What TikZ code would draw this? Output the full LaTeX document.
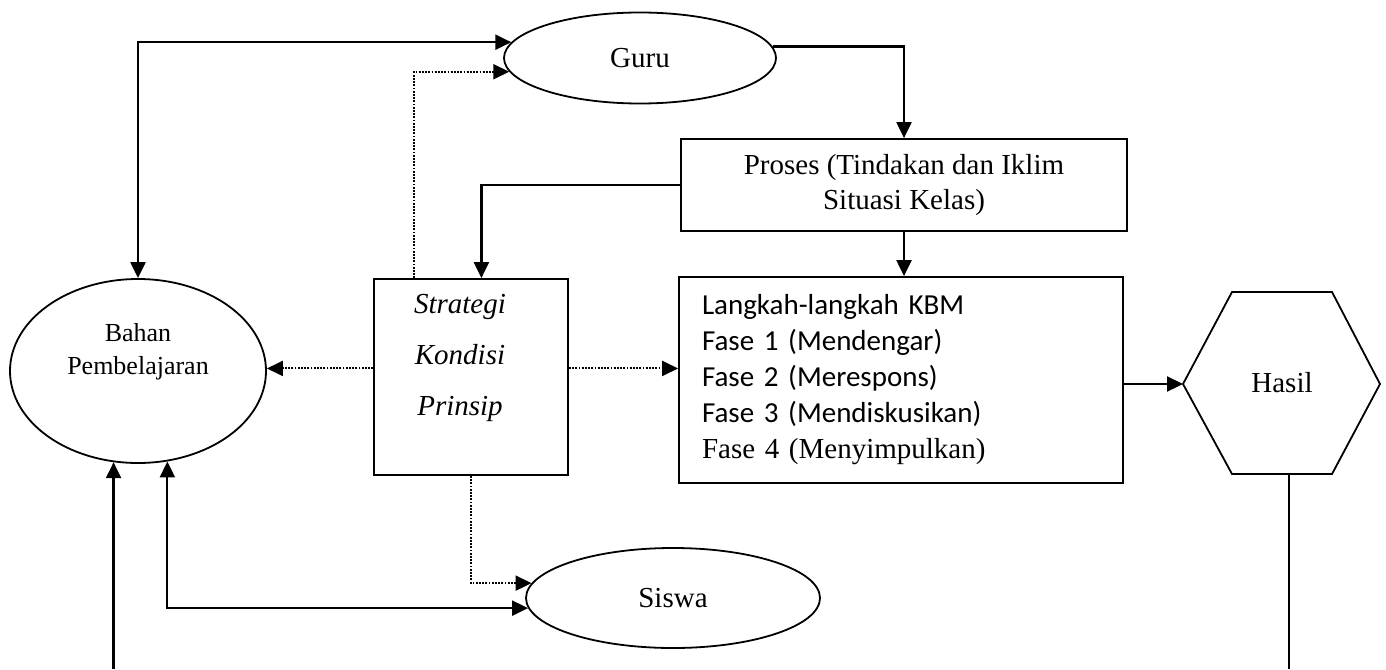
\documentclass[tikz,border=0pt]{standalone}
\usepackage{fontspec}
\setmainfont{Liberation Serif}
\newfontfamily\kbmfont{Carlito}
\usetikzlibrary{positioning, shapes.geometric, arrows.meta, calc}
\tikzset{
  oval/.style={draw, ellipse, line width=0.9pt, inner sep=0,
    font=\fontsize{14.5}{17.5}\selectfont},
  kotak/.style={draw, rectangle, line width=0.9pt, inner sep=0, align=center,
    font=\fontsize{14.5}{17.5}\selectfont},
  teks/.style={inner sep=0, align=center, font=\fontsize{14.5}{17.5}\selectfont},
  panah/.style={-{Triangle[length=8pt,width=7.5pt]}, line width=1.1pt},
  duapanah/.style={{Triangle[length=8pt,width=7.5pt]}-{Triangle[length=8pt,width=7.5pt]},
    line width=1.1pt},
  titik/.style={-{Triangle[length=8pt,width=7.5pt]}, line width=1pt,
    dash pattern=on 0.9pt off 0.7pt}
}

\begin{document}
\begin{tikzpicture}[x=0.5pt, y=-0.5pt]
\useasboundingbox (0,0) rectangle (1386,669);
\coordinate (bawah) at (0,669);

\node [oval, minimum width=136pt, minimum height=45.5pt] (guru) at (640,58) {Guru};
\node [kotak, minimum width=223pt, minimum height=46pt] (proses) at (904,185)
  {Proses (Tindakan dan Iklim\\Situasi Kelas)};

\node [oval, minimum width=128pt, minimum height=92pt] (bahan) at (138,371) {};
\node [teks, font=\fontsize{13}{16.5}\selectfont] (bahantext) at (138,352)
  {Bahan\\Pembelajaran};

\node [kotak, minimum width=97pt, minimum height=98pt] (strategi) at (471,377) {};
\node [teks, font=\fontsize{14.5}{25.5}\selectfont\itshape] (strategitext) at (460,358)
  {Strategi\\Kondisi\\Prinsip};

\node [kotak, align=left, minimum height=103pt, text width=199pt, inner xsep=11.5pt,
  font=\fontsize{14.5}{18}\selectfont] (kbm) at (901,380)
  {{\kbmfont Langkah-langkah KBM}\\{\kbmfont Fase 1 (Mendengar)}\\
   {\kbmfont Fase 2 (Merespons)}\\{\kbmfont Fase 3 (Mendiskusikan)}\\
   Fase 4 (Menyimpulkan)};

% hasil
\draw [line width=0.9pt] (1183,384) -- (1232,292) -- (1332,292) -- (1380,384)
  -- (1332,474) -- (1232,474) -- cycle;
\node [teks] (hasil) at (1282,383) {Hasil};
\coordinate (hexw) at (1183,384);
\coordinate (hexs) at (1289,474);

\node [oval, minimum width=147pt, minimum height=50pt] (siswa) at (673,598) {Siswa};

\draw [duapanah] (bahan.north) |- (guru.173);
\draw [titik] (strategi.120) |- (guru.186);
\draw [panah] (guru.5) -| (proses.north);
\draw [panah] (proses.west) -| (strategi.84);
\draw [panah] (proses.south) -- (proses.south |- kbm.north);

\draw [titik] (strategi.175) -- (strategi.175 -| bahan.east);
\draw [titik] (strategi.5) -- (strategi.5 -| kbm.west);
\draw [panah] (kbm.east |- hexw) -- (hexw);
\draw [line width=0.8pt] (hexs) -- (hexs |- bawah);

\draw [titik] (strategi.south) |- (siswa.174);
\draw [duapanah] (bahan.-72) |- (siswa.184);
\draw [panah] (bahan.-105 |- bawah) -- (bahan.-105);

\end{tikzpicture}
\end{document}
